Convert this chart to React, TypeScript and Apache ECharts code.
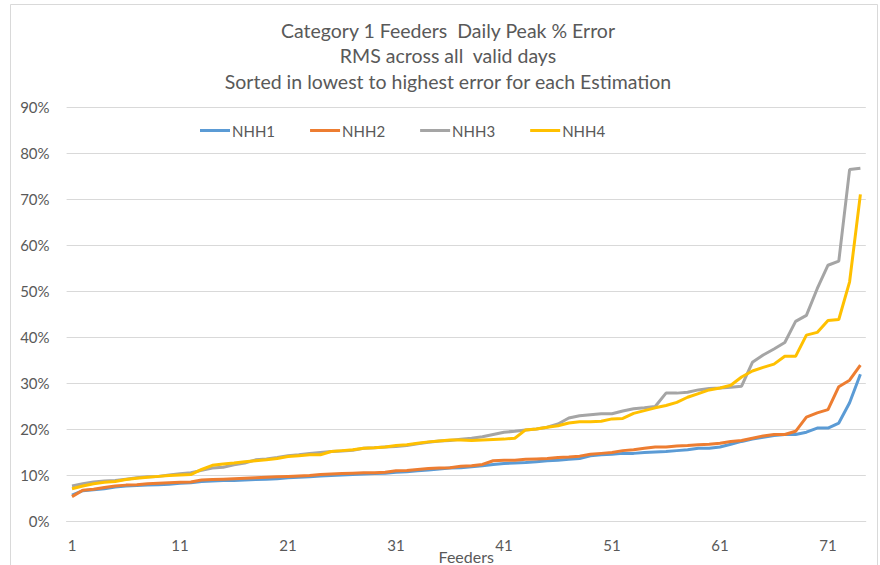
import React, { useEffect, useRef } from "react";
import * as echarts from "echarts";

const feeders: string[] = Array.from({ length: 74 }, (_, i) => String(i + 1));

const nhh1: number[] = [
  5.6, 6.6, 6.8, 7.0, 7.4, 7.6, 7.7, 7.8, 7.9, 8.0,
  8.2, 8.3, 8.6, 8.7, 8.8, 8.8, 8.9, 9.0, 9.1, 9.2,
  9.4, 9.5, 9.6, 9.8, 9.9, 10.0, 10.1, 10.2, 10.3, 10.4,
  10.6, 10.7, 10.9, 11.1, 11.3, 11.5, 11.6, 11.8, 12.0, 12.3,
  12.5, 12.6, 12.7, 12.9, 13.1, 13.2, 13.4, 13.6, 14.2, 14.4,
  14.5, 14.7, 14.7, 14.9, 15.0, 15.1, 15.3, 15.5, 15.8, 15.8,
  16.1, 16.7, 17.3, 17.8, 18.2, 18.6, 18.8, 18.8, 19.3, 20.2,
  20.2, 21.3, 25.7, 31.9,
];

const nhh2: number[] = [
  5.3, 6.7, 6.9, 7.3, 7.6, 7.8, 7.9, 8.1, 8.2, 8.3,
  8.4, 8.5, 8.9, 9.0, 9.1, 9.2, 9.3, 9.4, 9.5, 9.6,
  9.7, 9.8, 9.9, 10.1, 10.2, 10.3, 10.4, 10.5, 10.5, 10.6,
  10.9, 11.0, 11.2, 11.4, 11.5, 11.6, 11.9, 12.0, 12.3, 13.1,
  13.2, 13.2, 13.4, 13.5, 13.6, 13.8, 13.9, 14.1, 14.5, 14.7,
  14.9, 15.3, 15.5, 15.8, 16.1, 16.1, 16.3, 16.4, 16.6, 16.7,
  16.9, 17.3, 17.5, 18.0, 18.5, 18.8, 18.8, 19.5, 22.6, 23.5,
  24.2, 29.2, 30.6, 33.9,
];

const nhh3: number[] = [
  7.6, 8.1, 8.5, 8.7, 8.8, 9.1, 9.4, 9.6, 9.7, 10.0,
  10.3, 10.5, 11.0, 11.5, 11.7, 12.2, 12.6, 13.3, 13.5, 13.8,
  14.2, 14.4, 14.7, 14.9, 15.1, 15.2, 15.4, 15.8, 15.9, 16.1,
  16.2, 16.4, 16.8, 17.1, 17.4, 17.5, 17.8, 18.0, 18.3, 18.8,
  19.3, 19.5, 19.8, 20.0, 20.4, 21.1, 22.4, 22.9, 23.1, 23.3,
  23.3, 23.9, 24.4, 24.6, 24.9, 27.8, 27.8, 28.0, 28.5, 28.8,
  28.9, 29.1, 29.3, 34.5, 36.1, 37.4, 38.8, 43.4, 44.7, 50.5,
  55.6, 56.5, 76.4, 76.7,
];

const nhh4: number[] = [
  7.0, 7.6, 8.1, 8.4, 8.6, 9.0, 9.3, 9.5, 9.7, 9.9,
  10.0, 10.1, 11.2, 12.1, 12.4, 12.6, 12.9, 13.1, 13.3, 13.6,
  14.0, 14.2, 14.4, 14.4, 15.1, 15.3, 15.5, 15.8, 15.9, 16.1,
  16.4, 16.6, 16.9, 17.2, 17.4, 17.6, 17.6, 17.5, 17.6, 17.7,
  17.8, 18.0, 19.8, 20.0, 20.4, 20.7, 21.3, 21.6, 21.6, 21.7,
  22.2, 22.3, 23.4, 24.0, 24.6, 25.1, 25.8, 26.9, 27.7, 28.5,
  28.9, 29.5, 31.3, 32.6, 33.4, 34.1, 35.8, 35.8, 40.4, 41.0,
  43.6, 43.8, 52.0, 71.0,
];

const seriesNames: string[] = ["NHH1", "NHH2", "NHH3", "NHH4"];
const seriesColors: string[] = ["#5B9BD5", "#ED7D31", "#A5A5A5", "#FFC000"];
const titleLines: string[] = [
  "Category 1 Feeders  Daily Peak % Error",
  "RMS across all  valid days",
  "Sorted in lowest to highest error for each Estimation",
];

const FONT = "Lato, 'Noto Sans', sans-serif";

export default function App() {
  const ref = useRef<HTMLDivElement>(null);
  useEffect(() => {
    if (!ref.current) return;
    const chart = echarts.init(ref.current, undefined, { renderer: "svg" });
    const data = [nhh1, nhh2, nhh3, nhh4];
    chart.setOption({
      animation: false,
      backgroundColor: "#ffffff",
      textStyle: { fontFamily: FONT },
      graphic: [
        {
          type: "rect",
          shape: { x: 10.5, y: 4.5, width: 867, height: 570 },
          style: { fill: "none", stroke: "#d9d9d9", lineWidth: 1 },
          silent: true,
        },
        ...titleLines.map((t, i) => ({
          type: "text",
          x: 448,
          y: 30 + i * 25.5,
          style: {
            text: t,
            fill: "#595959",
            font: `19.5px ${FONT}`,
            align: "center",
            verticalAlign: "middle",
          },
        })),
      ],
      legend: {
        top: 118,
        left: 195,
        itemGap: 35,
        itemWidth: 30,
        itemHeight: 3,
        icon: "rect",
        textStyle: { color: "#595959", fontSize: 15, fontFamily: FONT, padding: [0, 0, 0, -3] },
        data: seriesNames,
      },
      grid: {
        left: 66.6,
        top: 107,
        width: 799.2,
        height: 414,
        containLabel: false,
        outerBoundsMode: "none",
      },
      xAxis: {
        type: "category",
        data: feeders,
        boundaryGap: true,
        name: "Feeders",
        nameLocation: "middle",
        nameGap: 27,
        nameMoveOverlap: false,
        nameTextStyle: { color: "#595959", fontSize: 16, fontFamily: FONT },
        axisLine: { show: true, lineStyle: { color: "#d9d9d9" } },
        axisTick: { show: false },
        axisLabel: { interval: 9, color: "#595959", fontSize: 15, margin: 16, fontFamily: FONT },
        splitLine: { show: false },
      },
      yAxis: {
        type: "value",
        min: 0,
        max: 90,
        interval: 10,
        axisLine: { show: false },
        axisTick: { show: false },
        axisLabel: { formatter: "{value}%", color: "#595959", fontSize: 15, margin: 17, fontFamily: FONT },
        splitLine: { lineStyle: { color: "#d9d9d9", width: 1 } },
      },
      series: seriesNames.map((n, i) => ({
        name: n,
        type: "line",
        data: data[i],
        showSymbol: false,
        symbol: "none",
        lineStyle: { color: seriesColors[i], width: 3 },
        itemStyle: { color: seriesColors[i] },
        z: 2 + i,
      })),
    });
    return () => chart.dispose();
  }, []);
  return (
    <div
      ref={ref}
      style={{ position: "absolute", left: 0, top: 0, width: 880, height: 565 }}
    />
  );
}
